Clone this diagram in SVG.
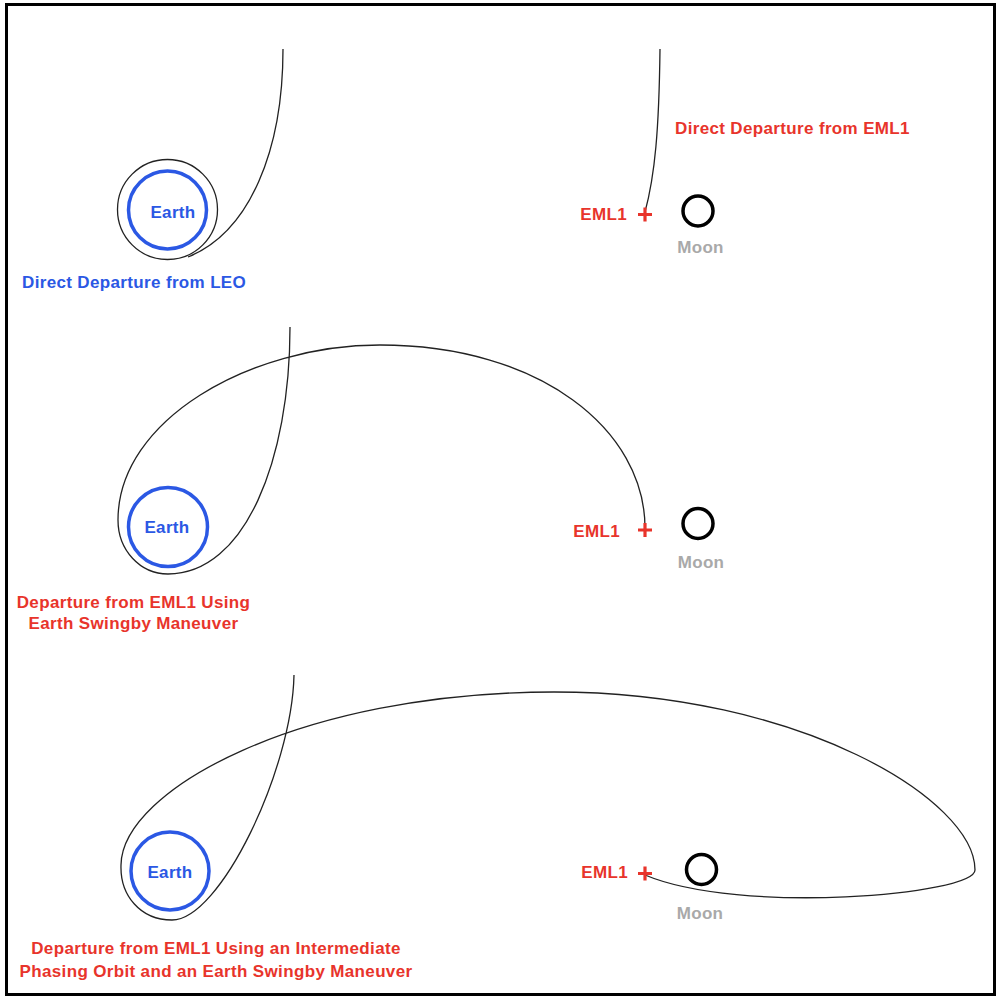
<svg xmlns="http://www.w3.org/2000/svg" width="996" height="997" viewBox="0 0 996 997">
<style>
.lbl{font-family:"Liberation Sans",Arial,Helvetica,sans-serif;font-weight:bold;font-size:17px;letter-spacing:0.35px}
.blue{fill:#2b58e4}
.red{fill:#e8342b}
.gray{fill:#a9a9a9}
.earth{fill:none;stroke:#2b58e4;stroke-width:3.5}
.moon{fill:none;stroke:#000;stroke-width:3.5}
.plus{stroke:#e8342b;stroke-width:3.2;fill:none}
.traj{fill:none;stroke:#222;stroke-width:1.3}
</style>
<rect x="0" y="0" width="996" height="997" fill="#fff"/>
<rect id="frame" x="6.5" y="4.5" width="988" height="990" fill="none" stroke="#000" stroke-width="3"/>

<g id="connectors">
  <!-- panel 1 -->
  <path class="traj" d="M283,49 C283,150 250,232 188,257"/>
  <circle class="traj" cx="167.5" cy="209.5" r="50"/>
  <path class="traj" d="M660,49 C659,130 655,175 645,212"/>
  <!-- panel 2 -->
  <path class="traj" d="M290,327 C290,460 245,574 168,574 C140,574 118,550 118,520 C118,420 250,345 380,345 C540,345 645,430 645,528"/>
  <!-- panel 3 -->
  <path class="traj" d="M294,675 C292,770 220,920 172,920 C140,920 120,895 121,865 C122,790 300,692 554,692 C800,692 975,800 975,870 C975,895 740,915 645,875"/>
</g>

<g id="earth1">
  <circle class="earth" cx="167.5" cy="210" r="39"/>
  <text class="lbl blue" x="173" y="218" text-anchor="middle">Earth</text>
</g>
<g id="label-leo">
  <text class="lbl blue" x="22" y="288">Direct Departure from LEO</text>
</g>
<g id="eml1-1">
  <path class="plus" d="M638,214.5 H652 M645,207.5 V221.5"/>
  <text class="lbl red" x="627" y="220" text-anchor="end">EML1</text>
</g>
<g id="moon1">
  <circle class="moon" cx="698" cy="211" r="15"/>
  <text class="lbl gray" x="700.5" y="253" text-anchor="middle">Moon</text>
</g>
<g id="label-eml1">
  <text class="lbl red" x="675" y="134">Direct Departure from EML1</text>
</g>

<g id="earth2">
  <circle class="earth" cx="168" cy="527" r="39.5"/>
  <text class="lbl blue" x="167" y="533" text-anchor="middle">Earth</text>
</g>
<g id="eml1-2">
  <path class="plus" d="M638,530 H652 M645,523 V537"/>
  <text class="lbl red" x="620" y="537" text-anchor="end">EML1</text>
</g>
<g id="moon2">
  <circle class="moon" cx="698" cy="523.5" r="15"/>
  <text class="lbl gray" x="701" y="568" text-anchor="middle">Moon</text>
</g>
<g id="label-swingby">
  <text class="lbl red" x="133.5" y="608" text-anchor="middle">Departure from EML1 Using</text>
  <text class="lbl red" x="133.5" y="629" text-anchor="middle">Earth Swingby Maneuver</text>
</g>

<g id="earth3">
  <circle class="earth" cx="170" cy="871" r="39"/>
  <text class="lbl blue" x="170" y="878" text-anchor="middle">Earth</text>
</g>
<g id="eml1-3">
  <path class="plus" d="M638,873.5 H652 M645,866.5 V880.5"/>
  <text class="lbl red" x="628" y="878" text-anchor="end">EML1</text>
</g>
<g id="moon3">
  <circle class="moon" cx="701.5" cy="869.5" r="15"/>
  <text class="lbl gray" x="700" y="919" text-anchor="middle">Moon</text>
</g>
<g id="label-phasing">
  <text class="lbl red" x="216" y="954" text-anchor="middle">Departure from EML1 Using an Intermediate</text>
  <text class="lbl red" x="216" y="977" text-anchor="middle">Phasing Orbit and an Earth Swingby Maneuver</text>
</g>
</svg>
